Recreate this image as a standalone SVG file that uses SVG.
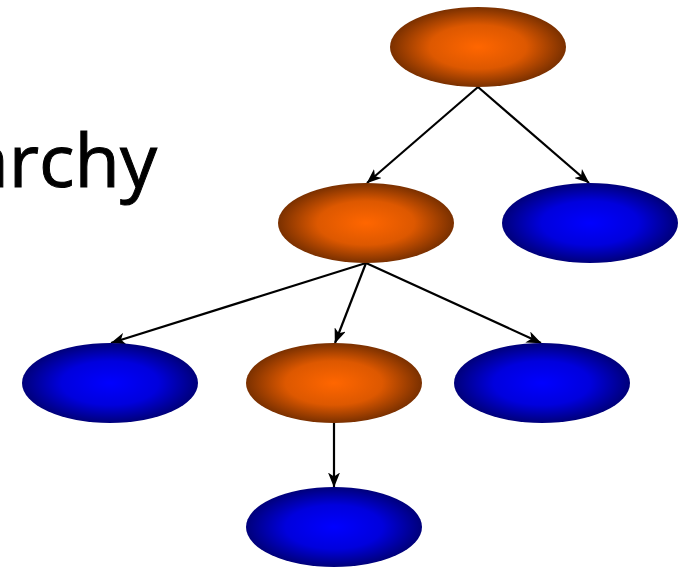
<svg xmlns="http://www.w3.org/2000/svg" width="680" height="567" viewBox="0 0 680 567">
  <style>
    .title { font-family: "Open Sans", "DejaVu Sans", sans-serif; font-size: 74px; fill: #000; stroke: #000; stroke-width: 1; }
    .edge { stroke: #000; stroke-width: 2.2; fill: none; marker-end: url(#arrow); }
    .orange { fill: url(#gOrange); }
    .blue { fill: url(#gBlue); }
  </style>
  <defs>
    <radialGradient id="gOrange" cx="0.5" cy="0.5" r="0.5">
      <stop offset="0" stop-color="#ff6600"/>
      <stop offset="0.55" stop-color="#dd5800"/>
      <stop offset="1" stop-color="#7a3000"/>
    </radialGradient>
    <radialGradient id="gBlue" cx="0.5" cy="0.5" r="0.5">
      <stop offset="0" stop-color="#0000ff"/>
      <stop offset="0.55" stop-color="#0000dd"/>
      <stop offset="1" stop-color="#00007a"/>
    </radialGradient>
    <marker id="arrow" viewBox="0 0 15 12" refX="14.5" refY="6" markerWidth="15" markerHeight="12" markerUnits="userSpaceOnUse" orient="auto">
      <path d="M0,0 L15,6 L0,12 L4,6 Z" fill="#000"/>
    </marker>
  </defs>

  <text class="title" x="157" y="187" text-anchor="end">archy</text>

  <g id="connectors">
    <line class="edge" x1="478" y1="87" x2="367" y2="183"/>
    <line class="edge" x1="478" y1="87" x2="589" y2="183"/>
    <line class="edge" x1="366" y1="263" x2="111" y2="343"/>
    <line class="edge" x1="366" y1="263" x2="335" y2="343"/>
    <line class="edge" x1="366" y1="263" x2="541" y2="343"/>
    <line class="edge" x1="334" y1="423" x2="334" y2="487"/>
  </g>

  <g id="root"><ellipse class="orange" cx="478" cy="47" rx="88" ry="40"/></g>
  <g id="mid-left"><ellipse class="orange" cx="366" cy="223" rx="88" ry="40"/></g>
  <g id="mid-right"><ellipse class="blue" cx="590" cy="223" rx="88" ry="40"/></g>
  <g id="leaf-left"><ellipse class="blue" cx="110" cy="383" rx="88" ry="40"/></g>
  <g id="leaf-center"><ellipse class="orange" cx="334" cy="383" rx="88" ry="40"/></g>
  <g id="leaf-right"><ellipse class="blue" cx="542" cy="383" rx="88" ry="40"/></g>
  <g id="leaf-bottom"><ellipse class="blue" cx="334" cy="527" rx="88" ry="40"/></g>
</svg>
